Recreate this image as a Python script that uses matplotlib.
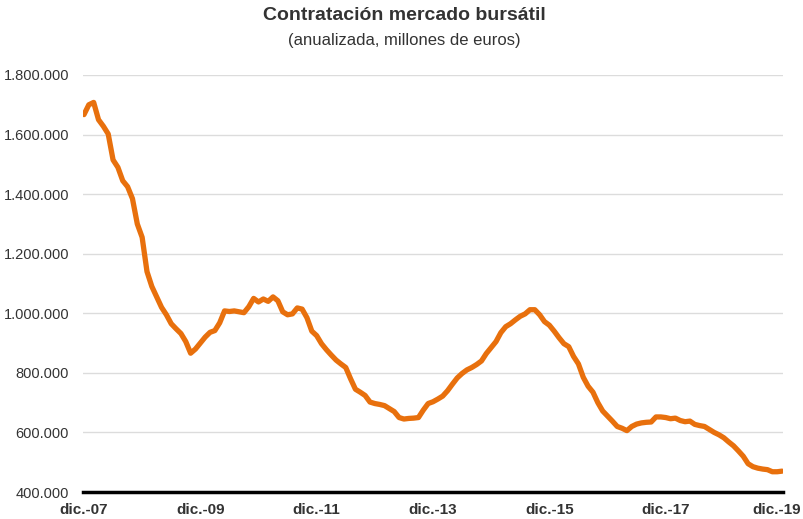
import matplotlib
matplotlib.use("Agg")
import matplotlib.pyplot as plt
import matplotlib.transforms as mtransforms
import numpy as np

plt.rcParams['font.family'] = ['Liberation Sans', 'DejaVu Sans']

# Contratacion anualizada en miles de millones (dic.-07 .. dic.-19, mensual)
contratacion = [
    1667, 1700, 1708, 1650, 1628, 1602, 1515, 1490, 1445, 1425,
    1385, 1300, 1255, 1140, 1090, 1055, 1020, 995, 965, 948,
    932, 905, 866, 880, 900, 920, 936, 942, 968, 1008,
    1006, 1008, 1005, 1002, 1022, 1050, 1038, 1048, 1040, 1055,
    1042, 1005, 995, 998, 1018, 1014, 985, 940, 925, 898,
    878, 860, 843, 830, 818, 780, 745, 735, 724, 702,
    697, 694, 690, 680, 670, 650, 645, 647, 648, 650,
    675, 697, 703, 712, 722, 740, 762, 783, 798, 810,
    818, 828, 840, 865, 885, 905, 935, 955, 965, 978,
    990, 998, 1012, 1012, 995, 972, 960, 940, 918, 898,
    888, 855, 830, 785, 755, 735, 700, 672, 655, 638,
    620, 614, 606, 620, 628, 632, 634, 635, 652, 652,
    650, 646, 648, 640, 636, 638, 627, 623, 620, 610,
    600, 592, 582, 568, 555, 538, 520, 495, 485, 480,
    477, 475, 468, 468, 470,
]
contratacion = [v * 1000 for v in contratacion]

x_labels = ["dic.-07", "dic.-09", "dic.-11", "dic.-13", "dic.-15", "dic.-17", "dic.-19"]
y_ticks = [400000, 600000, 800000, 1000000, 1200000, 1400000, 1600000, 1800000]


def miles(v):
    return f"{v:,.0f}".replace(",", ".")


fig = plt.figure(figsize=(8.04, 5.19), dpi=100)
ax = fig.add_axes([83 / 804, 1 - 492 / 519, 700 / 804, 417 / 519])

months = np.arange(len(contratacion))
ax.plot(months, contratacion, color="#E8700D", lw=3.8, solid_capstyle="round",
        solid_joinstyle="round", zorder=3)

ax.set_ylim(400000, 1800000)
ax.set_xlim(-0.2, 144.2)
ax.set_yticks(y_ticks)
ax.set_yticklabels([miles(v) for v in y_ticks], fontsize=10.5, color="#333333")
ax.set_xticks(np.arange(0, 145, 24))
ax.set_xticklabels(x_labels, fontsize=11, fontweight="bold", color="#333333")
ax.tick_params(axis="both", length=0)
ax.tick_params(axis="y", pad=10)
ax.tick_params(axis="x", pad=8)

# la ultima etiqueta toca el borde derecho: se desplaza un poco a la izquierda
last = ax.get_xticklabels()[-1]
last.set_transform(last.get_transform() +
                   mtransforms.ScaledTranslation(-5 / 100, 0, fig.dpi_scale_trans))

ax.grid(axis="y", color="#dcdcdc", lw=1)
ax.set_axisbelow(True)
for s in ["top", "right", "left"]:
    ax.spines[s].set_visible(False)
ax.spines["bottom"].set_color("black")
ax.spines["bottom"].set_linewidth(2.5)
ax.spines["bottom"].set_zorder(4)

fig.text(0.503, 1 - 16 / 519, "Contratación mercado bursátil", ha="center", va="center",
         fontsize=14, fontweight="bold", color="#333333")
fig.text(0.503, 1 - 40 / 519, "(anualizada, millones de euros)", ha="center", va="center",
         fontsize=12, color="#333333")

fig.savefig("out.png", dpi=100)
